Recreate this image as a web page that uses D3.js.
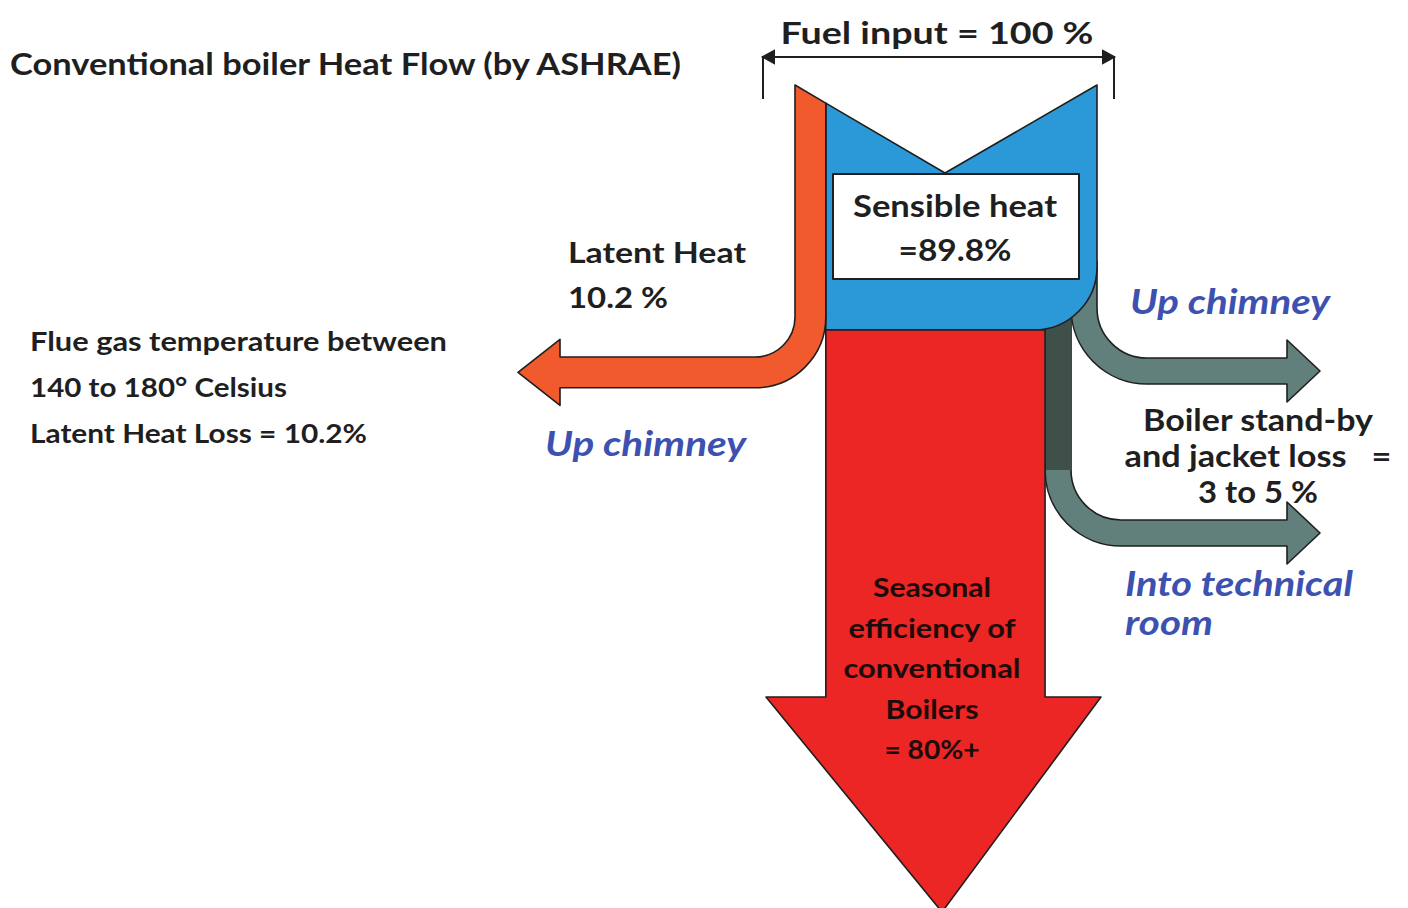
<!DOCTYPE html>
<html>
<head>
<meta charset="utf-8">
<script src="https://cdn.jsdelivr.net/npm/d3@7"></script>
<style>
  body { margin: 0; background: #fff; }
  svg { display: block; }
  text { font-family: Lato, 'Open Sans', sans-serif; font-weight: 700; white-space: pre; }
</style>
</head>
<body>
<div class="chart-wrapper"></div>
<script>
// shares of the fuel input (%)
const fuelInput = 100
const splitNames = ['Latent heat', 'Sensible heat']
const splitValues = [10.2, 89.8]
// how the sensible band is split in the drawing (widths)
const sensibleNames = ['Seasonal efficiency', 'Jacket loss into room', 'Stand-by loss up chimney']
const sensibleValues = [72.6, 8.6, 8.6]

const titleText = 'Conventional boiler Heat Flow (by ASHRAE)'
const fuelLabel = 'Fuel input = 100 %'
const sensibleLines = ['Sensible heat', '=' + splitValues[1] + '%']
const latentLines = ['Latent Heat', splitValues[0] + ' %']
const flueLines = ['Flue gas temperature between', '140 to 180° Celsius', 'Latent Heat Loss = 10.2%']
const standbyLines = ['Boiler stand-by', 'and jacket loss   =', '3 to 5 %']
const efficiencyLines = ['Seasonal', 'efficiency of', 'conventional', 'Boilers', '= 80%+']
const chimneyLabel = 'Up chimney'
const roomLines = ['Into technical', 'room']

const width = 1408, height = 908
const ink = '#1f1f1f'
const colors = {latent: '#f15a2c', sensible: '#2b98d7', useful: '#ec2525', loss: '#61807c', lossDark: '#3e5049', label: '#3d51b1'}

const svg = d3.select('.chart-wrapper').append('svg')
  .attr('width', width)
  .attr('height', height)

// horizontal scale across the top of the flow (0 - 100 % of fuel)
const x = d3.scaleLinear().domain([0, fuelInput]).range([795, 1097])

const xL = x(0)
const xS = x(splitValues[0])
const xR = x(fuelInput)
const xUse = x(splitValues[0] + sensibleValues[0])
const xRoom = x(splitValues[0] + sensibleValues[0] + sensibleValues[1])

const topY = 85, vY = 173, vX = 945
const slant = (xx) => xx <= vX ? topY + (xx - xL) / (vX - xL) * (vY - topY) : vY - (xx - vX) / (xR - vX) * (vY - topY)
const boxBottom = 330
const PI = Math.PI

const shapes = svg.append('g')
  .attr('stroke', ink)
  .attr('stroke-width', 1.6)
  .attr('stroke-linejoin', 'round')

// grey loss arrows bending to the right
const lossArrow = (xIn, xOut, cx, cy, rIn, startY) => {
  const w = xIn - xOut
  const p = d3.path()
  const yTop = cy + rIn, yBot = yTop + w, mid = yTop + w / 2
  p.moveTo(xOut, startY)
  p.lineTo(xOut, cy)
  p.arc(cx, cy, rIn + w, PI, PI / 2, true)
  p.lineTo(1287, yBot)
  p.lineTo(1287, mid + 31)
  p.lineTo(1320, mid)
  p.lineTo(1287, mid - 31)
  p.lineTo(1287, yTop)
  p.lineTo(cx, yTop)
  p.arc(cx, cy, rIn, PI / 2, PI, false)
  p.lineTo(xIn, startY)
  p.closePath()
  return p.toString()
}

shapes.append('path')
  .attr('d', lossArrow(xRoom, xUse, xRoom + 50, 470, 50, 290))
  .attr('fill', colors.loss)

shapes.append('rect')
  .attr('x', xUse)
  .attr('y', 290)
  .attr('width', xRoom - xUse)
  .attr('height', 180)
  .attr('fill', colors.lossDark)
  .attr('stroke', 'none')

shapes.append('path')
  .attr('d', lossArrow(xR, xRoom, xR + 50, 308, 50, 262))
  .attr('fill', colors.loss)

// sensible heat block
const blue = d3.path()
blue.moveTo(xS, slant(xS))
blue.lineTo(vX, vY)
blue.lineTo(xR, topY)
blue.lineTo(xR, 267)
blue.arc(xR - 63, 267, 63, 0, PI / 2, false)
blue.lineTo(xS, boxBottom)
blue.closePath()
shapes.append('path')
  .attr('d', blue.toString())
  .attr('fill', colors.sensible)

// seasonal efficiency arrow
const red = d3.path()
red.moveTo(xS, boxBottom)
red.lineTo(xUse, boxBottom)
red.lineTo(xUse, 697)
red.lineTo(1101, 697)
red.lineTo(942, 912)
red.lineTo(766, 697)
red.lineTo(xS, 697)
red.closePath()
shapes.append('path')
  .attr('d', red.toString())
  .attr('fill', colors.useful)

// latent heat arrow
const lw = xS - xL
const lcx = xL - 40, lcy = 317
const lTop = lcy + 40, lBot = lTop + lw, lMid = lTop + lw / 2
const orange = d3.path()
orange.moveTo(xL, topY)
orange.lineTo(xL, lcy)
orange.arc(lcx, lcy, 40, 0, PI / 2, false)
orange.lineTo(560, lTop)
orange.lineTo(560, lMid - 33)
orange.lineTo(518, lMid)
orange.lineTo(560, lMid + 33)
orange.lineTo(560, lBot)
orange.lineTo(lcx, lBot)
orange.arc(lcx, lcy, 40 + lw, PI / 2, 0, true)
orange.lineTo(xS, slant(xS))
orange.closePath()
shapes.append('path')
  .attr('d', orange.toString())
  .attr('fill', colors.latent)

// white label box
shapes.append('rect')
  .attr('x', 833)
  .attr('y', 174)
  .attr('width', 246)
  .attr('height', 105)
  .attr('fill', '#fff')
  .attr('stroke-width', 2)

// fuel input bracket
const bracket = svg.append('g')
  .attr('stroke', ink)
  .attr('stroke-width', 2)
  .attr('fill', 'none')
bracket.append('path')
  .attr('d', `M763,99V57H1114V99`)
bracket.append('path')
  .attr('d', `M763,57l11,-6v12z M1114,57l-11,-6v12z`)
  .attr('fill', ink)

// text helper: font size from glyph height, width squeezed to the original
const label = (lines, x0, y0, step, size, opts = {}) => {
  const t = svg.append('text')
    .attr('font-size', size)
    .attr('fill', opts.color || ink)
    .attr('text-anchor', opts.anchor || 'start')
    .attr('font-style', opts.italic ? 'italic' : 'normal')
  lines.forEach((line, i) => {
    const s = t.append('tspan')
      .attr('x', x0)
      .attr('y', y0 + i * step)
      .text(line)
    if (opts.widths && opts.widths[i]) {
      s.attr('textLength', opts.widths[i]).attr('lengthAdjust', 'spacingAndGlyphs')
    }
  })
  return t
}

label([titleText], 10, 75, 0, 31, {widths: [671]})
label([fuelLabel], 937, 44, 0, 31, {anchor: 'middle', widths: [313]})
label(sensibleLines, 955, 217, 44, 30, {anchor: 'middle', widths: [204, 113]})
label(latentLines, 568, 263, 45, 29, {widths: [178, 100]})
label(flueLines, 30, 351, 46, 26, {widths: [417, 257, 337]})
label(standbyLines, 1258, 431, 36, 30, {anchor: 'middle', widths: [230, 267, 120]})
label(efficiencyLines, 932, 597, 40.5, 27, {anchor: 'middle', widths: [118, 167, 177, 93, 95], color: '#1c0b09'})

label([chimneyLabel], 545, 456, 0, 34, {italic: true, color: colors.label, widths: [201]})
label([chimneyLabel], 1130, 314, 0, 34, {italic: true, color: colors.label, widths: [200]})
label(roomLines, 1125, 596, 39, 34, {italic: true, color: colors.label, widths: [228, 88]})
</script>
</body>
</html>
